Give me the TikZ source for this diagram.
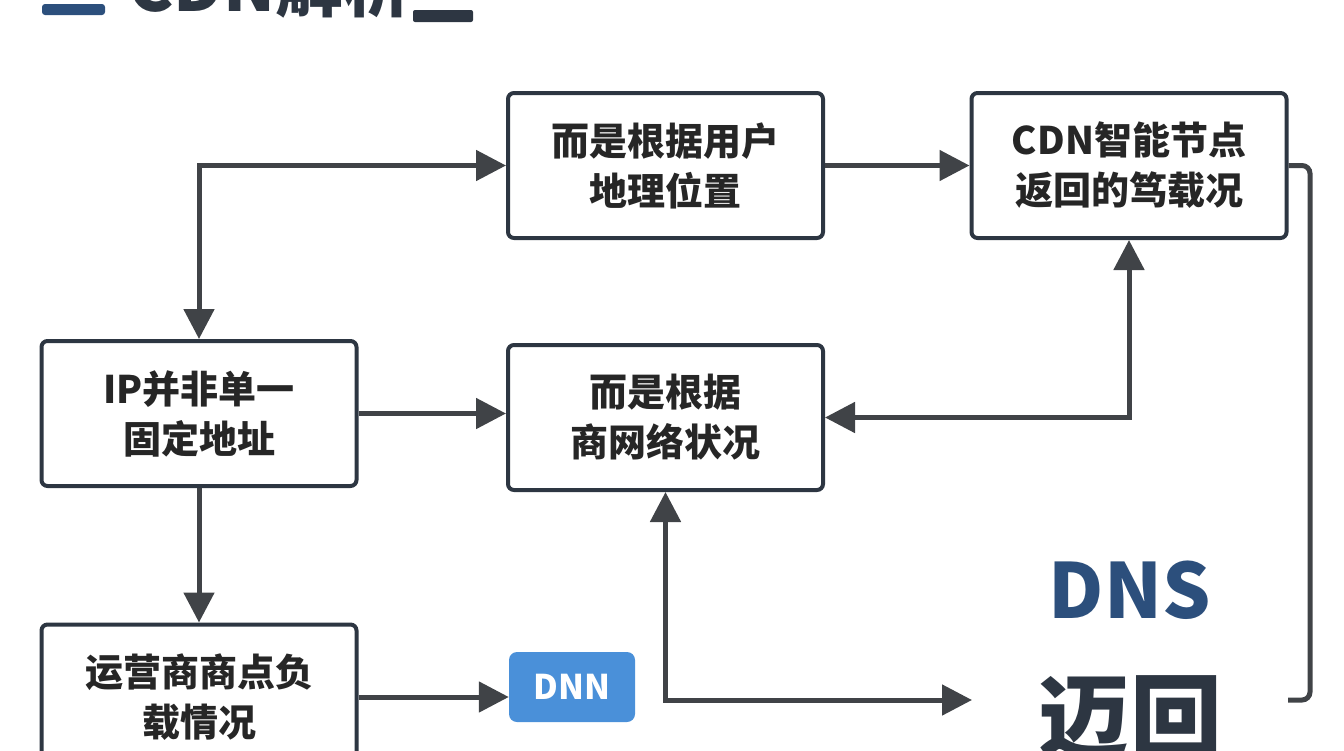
\documentclass[tikz,border=0pt]{standalone}
\usepackage{fontspec}
\newfontfamily\cjk{Noto Sans CJK SC}
\usetikzlibrary{arrows.meta,positioning}
\definecolor{boxline}{HTML}{2D3642}
\definecolor{arrowline}{HTML}{404347}
\definecolor{dnsblue}{HTML}{2C4F7C}
\definecolor{dnnblue}{HTML}{4A90D9}
\tikzset{
  box/.style={draw=boxline,line width=4pt,rounded corners=6pt,minimum width=315pt,minimum height=145pt,align=center,font=\cjk\bfseries\fontsize{38}{50}\selectfont,text=black!85},
  link/.style={draw=arrowline,line width=5pt,-{Triangle[length=30pt,width=30pt]}},
  both/.style={link,{Triangle[length=30pt,width=30pt]}-{Triangle[length=30pt,width=30pt]}}
}
\begin{document}
\begin{tikzpicture}[x=1pt,y=-1pt]
  \useasboundingbox (0,0) rectangle (1344,750);
  % title
  \node(title) at (270,-14) {\cjk\bfseries\fontsize{68}{70}\selectfont\color{boxline}CDN解析};
  \fill[dnsblue,rounded corners=3pt] (42,4) rectangle (105,15);
  \fill[boxline,rounded corners=2pt] (413,10) rectangle (473,22);

  \node(geo)[box] at (665.5,165.5) {而是根据用户\\地理位置};
  \node(cdn)[box] at (1129,165.5) {CDN智能节点\\返回的笃载况};
  \node(ip)[box] at (199,413.5) {IP并非单一\\固定地址};
  \node(net)[box] at (665.5,417.5) {而是根据\\商网络状况};
  \node(isp)[box] at (199,697) {运营商商点负\\载情况};
  \node(dnn)[fill=dnnblue,rounded corners=8pt,minimum width=126pt,minimum height=70pt,font=\cjk\bfseries\fontsize{34}{36}\selectfont,text=white] at (572,687) {DNN};
  \node(dns) at (1130,590) {\cjk\bfseries\fontsize{76}{80}\selectfont\color{dnsblue}DNS};
  \node(back) at (1130,718) {\cjk\bfseries\fontsize{92}{96}\selectfont\color{boxline}迈回};
  \coordinate(dnsin) at (972,700);
  \coordinate(turn) at (1310,430);

  \draw[both] (geo.west) -| (ip.north);
  \draw[link] (geo.east) -- (cdn.west);
  \draw[draw=arrowline,line width=5pt,rounded corners=8pt] (cdn.east) -| (turn) |- (1288,700);
  \draw[link] (ip.east) -- (ip.east -| net.west);
  \draw[both] (net.east) -| (cdn.south);
  \draw[link] (ip.south) -- (isp.north);
  \draw[link] (isp.east) -- (isp.east -| dnn.west);
  \draw[both] (net.south) |- (dnsin);
\end{tikzpicture}
\end{document}
